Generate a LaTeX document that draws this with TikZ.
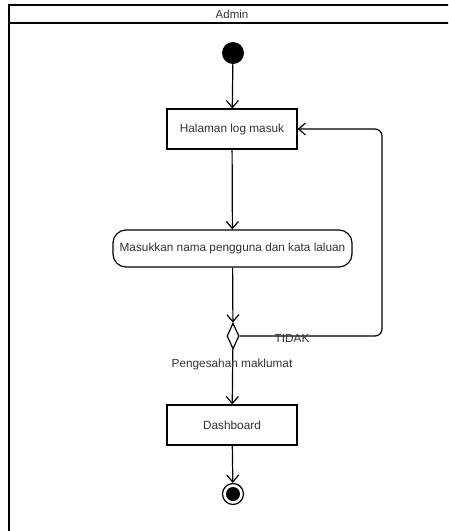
\documentclass[tikz,border=0pt]{standalone}
\usepackage{fontspec}
\setmainfont{Liberation Sans}
\usetikzlibrary{shapes.geometric,arrows.meta}

\tikzset{
    flow/.style={-{Straight Barb[length=7pt,width=12pt]},line width=1.2pt},
    act/.style={draw,line width=1.2pt,minimum width=130pt,minimum height=40pt,inner sep=0pt,font=\fontsize{11.8}{13}\selectfont,text=black!80},
}

\begin{document}
\begin{tikzpicture}[x=1pt,y=-1pt]
        \useasboundingbox (0,0) rectangle (448,531);
        % swimlane frame
        \begin{scope}
            \clip (0,0) rectangle (448,531);
            \draw[line width=1.6pt] (9,545) -- (9,5) -- (456,5) -- (456,545);
            \draw[line width=1.6pt] (9,23) -- (456,23);
        \end{scope}
        \node[font=\fontsize{11.5}{12}\selectfont,text=black!80] (lane) at (232,14) {Admin};
        % activity nodes
        \node[circle,fill,minimum size=22pt,inner sep=0pt] (start) at (233,53) {};
        \node[act] (login) at (232,129) {Halaman log masuk};
        \node[act,rounded corners=13pt,minimum width=239pt,minimum height=37pt] (input) at (232.5,248.5) {Masukkan nama pengguna dan kata laluan};
        \node[diamond,draw,line width=1.2pt,minimum width=12pt,minimum height=26pt,inner sep=0pt] (dec) at (233,336) {};
        \node[act] (dash) at (232,425) {Dashboard};
        \node[circle,draw,line width=1.2pt,minimum size=21pt,inner sep=0pt] (end) at (233,494) {};
        \node[circle,fill,minimum size=14pt,inner sep=0pt] (endin) at (end) {};
        % transitions
        \draw[flow] (start) -- (login);
        \draw[flow] (login) -- (input);
        \draw[flow] (input) -- (dec);
        \draw[flow,rounded corners=7pt] (dec.east) -- (382,336) -- (382,129) -- (login.east);
        \draw[flow] (dec) -- (dash);
        \draw[flow] (dash) -- (end);
        % guards
        \node[font=\fontsize{11.8}{13}\selectfont,text=black!80] (tidak) at (292,338) {TIDAK};
        \node[font=\fontsize{11.8}{13}\selectfont,text=black!80] (sah) at (232,364) {Pengesahan maklumat};
    \end{tikzpicture}
\end{document}
